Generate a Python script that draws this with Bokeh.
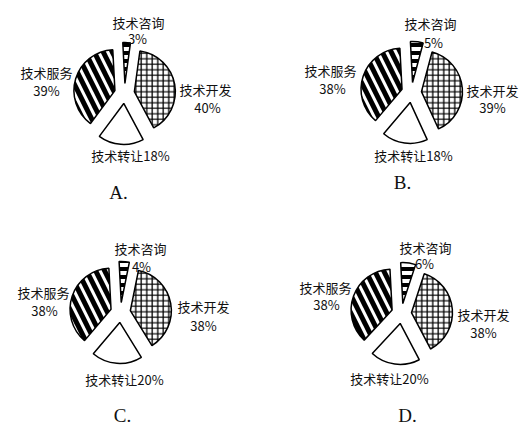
import math
from bokeh.plotting import figure
from bokeh.models import ColumnDataSource, Range1d
from bokeh.core.properties import value
from bokeh.embed import file_html
from bokeh.resources import INLINE

# ---- data ----
categories = ["技术咨询", "技术开发", "技术转让", "技术服务"]
values_A = [3, 40, 18, 39]
values_B = [5, 39, 18, 38]
values_C = [4, 38, 20, 38]
values_D = [6, 38, 20, 38]
option_labels = ["A.", "B.", "C.", "D."]
all_values = [values_A, values_B, values_C, values_D]

# ---- layout / style (image pixel coords, y downward) ----
W, H = 530, 436
centers = [(124, 93), (411, 92), (120, 312), (401, 313)]
R = 41
EXPLODE = 10
START = math.radians(3)  # slightly left of 12 o'clock

label_pos = [
    {"咨询": (138, 22), "咨询p": (137, 38), "服务": (46, 72), "服务p": (46, 90),
     "开发": (205, 89), "开发p": (207, 107), "转让": (130, 155), "opt": (118, 192)},
    {"咨询": (430, 23), "咨询p": (433, 42), "服务": (330, 70), "服务p": (332, 88),
     "开发": (492, 90), "开发p": (492, 107), "转让": (413, 155), "opt": (402, 182)},
    {"咨询": (140, 248), "咨询p": (141, 266), "服务": (43, 292), "服务p": (44, 310),
     "开发": (203, 306), "开发p": (203, 325), "转让": (124, 379), "opt": (122, 415)},
    {"咨询": (425, 247), "咨询p": (424, 263), "服务": (325, 287), "服务p": (326, 304),
     "开发": (483, 314), "开发p": (483, 332), "转让": (389, 378), "opt": (407, 415)},
]

hatch = {"技术咨询": ("horizontal_line", 8, 4),
         "技术开发": ("cross", 5.5, 1.3),
         "技术转让": ("blank", 8, 1),
         "技术服务": ("left_diagonal_line", 18, 5)}

p = figure(width=W, height=H, x_range=Range1d(0, W), y_range=Range1d(0, H),
           output_backend="svg", toolbar_location=None,
           x_axis_type=None, y_axis_type=None, min_border=0)
p.grid.visible = False
p.outline_line_color = None
p.background_fill_color = "white"

geo = {cat: dict(x=[], y=[], s=[], e=[]) for cat in categories}
for vals, (cx, cy) in zip(all_values, centers):
    total = sum(vals)
    cum = 0.0
    for cat, v in zip(categories, vals):
        c0 = cum / total
        c1 = (cum + v) / total
        cum += v
        a_start = math.pi / 2 + START - c1 * 2 * math.pi
        a_end = math.pi / 2 + START - c0 * 2 * math.pi
        mid = (a_start + a_end) / 2
        g = geo[cat]
        g["x"].append(cx + EXPLODE * math.cos(mid))
        g["y"].append((H - cy) + EXPLODE * math.sin(mid))
        g["s"].append(a_start)
        g["e"].append(a_end)

for cat in categories:
    pat, sc, wt = hatch[cat]
    p.wedge(x="x", y="y", radius=R, start_angle="s", end_angle="e",
            source=ColumnDataSource(geo[cat]),
            fill_color="white", line_color="black", line_width=1.5,
            hatch_pattern=pat, hatch_scale=sc, hatch_weight=wt, hatch_color="black")

tx, ty, tt = [], [], []
for vals, lp in zip(all_values, label_pos):
    d = dict(zip(categories, vals))
    items = [("咨询", "技术咨询"), ("咨询p", f"{d['技术咨询']}%"),
             ("服务", "技术服务"), ("服务p", f"{d['技术服务']}%"),
             ("开发", "技术开发"), ("开发p", f"{d['技术开发']}%"),
             ("转让", f"技术转让{d['技术转让']}%")]
    for key, txt in items:
        x, y = lp[key]
        tx.append(x); ty.append(H - y); tt.append(txt)

p.text(x=tx, y=ty, text=tt, text_font=value("Noto Sans CJK SC"),
       text_font_size="13px", text_align="center", text_baseline="middle",
       text_color="#111111")

ox = [lp["opt"][0] for lp in label_pos]
oy = [H - lp["opt"][1] for lp in label_pos]
p.text(x=ox, y=oy, text=option_labels, text_font=value("Liberation Serif"),
       text_font_size="19px", text_align="center", text_baseline="middle",
       text_color="#111111")

open("out.html", "w").write(file_html(p, INLINE))
